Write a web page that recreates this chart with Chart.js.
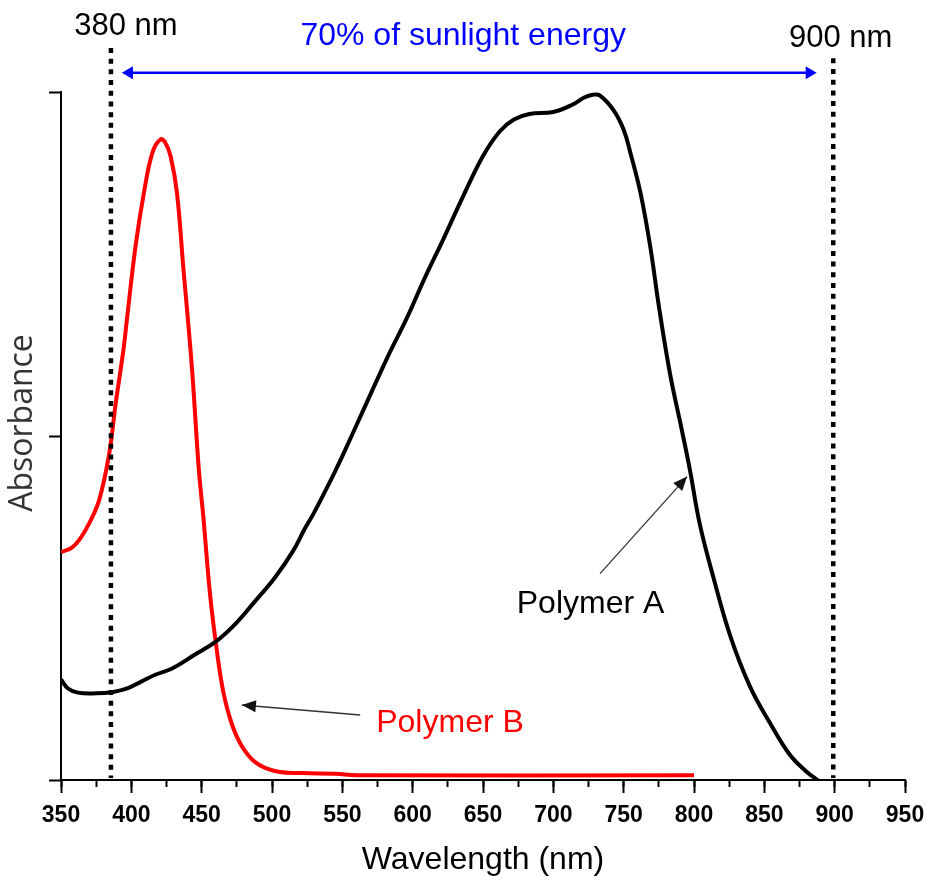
<!DOCTYPE html>
<html><head><meta charset="utf-8">
<script src="https://cdn.jsdelivr.net/npm/chart.js@4.4.0/dist/chart.umd.min.js"></script>
<style>html,body{margin:0;padding:0;background:#fff}#wrap{width:927px;height:880px;position:relative}</style>
</head><body><div id="wrap"><canvas id="c" width="927" height="880"></canvas></div>
<script>
// ---- data (wavelength in nm, absorbance normalised to axis 0..1) ----
const polymerA_nm  = [350,355,362,375,387,397,407,417,429,445,460,474,488,502,515,523,530,544,551,565,582,596,608,622,636,650,662,672,683,700,714,722,728,733,743,750,755,762,769,775,783,791,797,804,814,826,840,854,868,880,888];
const polymerA_abs = [0.146,0.133,0.127,0.126,0.128,0.133,0.143,0.153,0.162,0.182,0.201,0.227,0.260,0.294,0.333,0.364,0.389,0.445,0.475,0.538,0.614,0.672,0.727,0.787,0.849,0.907,0.943,0.960,0.968,0.971,0.982,0.992,0.996,0.995,0.973,0.945,0.910,0.853,0.774,0.689,0.590,0.512,0.452,0.373,0.293,0.208,0.135,0.083,0.037,0.012,0.000];
const polymerB_nm  = [350,358,364,370,377,384,389,394.5,397,403,409,415,420.6,424,428,432.4,437,443,448,451.3,456,461,465.5,471.5,478.6,488,502,521,545,560,800];
const polymerB_abs = [0.331,0.338,0.352,0.373,0.406,0.471,0.549,0.627,0.672,0.776,0.854,0.912,0.931,0.927,0.906,0.854,0.744,0.601,0.451,0.380,0.269,0.185,0.127,0.081,0.049,0.026,0.013,0.010,0.009,0.007,0.007];
const xTickStep = 50;
const xMinorStep = 25;
const xRange = [350, 950];
const yRange = [0, 1];
const markerWavelengths = [385.5, 899];
const markerTops = [1.064, 1.049];
const markerLabels = ['380 nm', '900 nm'];

// ---- annotation layout (data units) ----
const markerLabelPos = [{nm: 396.1, v: 1.083}, {nm: 904.3, v: 1.066}];
const sunArrow = {from: 393.3, to: 887.2, v: 1.028, text: '70% of sunlight energy', textNm: 635.9, textV: 1.068};
const labelA = {text: 'Polymer A', nm: 674, v: 0.243, arrowFrom: [733.2, 0.300], arrowTo: [795.1, 0.441]};
const labelB = {text: 'Polymer B', nm: 574.1, v: 0.070, arrowFrom: [562.7, 0.0945], arrowTo: [478.6, 0.109]};

const toPoints = (xs, ys) => xs.map((v, i) => ({x: v, y: ys[i]}));

function arrowHead(ctx, x1, y1, x2, y2, len, half) {
  const a = Math.atan2(y2 - y1, x2 - x1);
  ctx.beginPath();
  ctx.moveTo(x2, y2);
  ctx.lineTo(x2 - len * Math.cos(a) + half * Math.sin(a), y2 - len * Math.sin(a) - half * Math.cos(a));
  ctx.lineTo(x2 - len * Math.cos(a) - half * Math.sin(a), y2 - len * Math.sin(a) + half * Math.cos(a));
  ctx.closePath();
  ctx.fill();
}

const annotPlugin = {
  id: 'annot',
  afterDatasetsDraw(chart) {
    const {ctx} = chart;
    const xs = chart.scales.x, ys = chart.scales.y;
    const X = v => xs.getPixelForValue(v), Y = v => ys.getPixelForValue(v);
    ctx.save();
    // dotted marker lines
    ctx.strokeStyle = '#000';
    ctx.lineWidth = 4.5;
    ctx.setLineDash([5, 5.7]);
    markerWavelengths.forEach((m, i) => {
      ctx.beginPath();
      ctx.moveTo(X(m), Y(markerTops[i]));
      ctx.lineTo(X(m), Y(0) - 2);
      ctx.stroke();
    });
    ctx.setLineDash([]);
    // marker labels
    ctx.fillStyle = '#000';
    ctx.font = '31px "Liberation Sans", Arial, sans-serif';
    ctx.textAlign = 'center';
    ctx.textBaseline = 'alphabetic';
    markerLabels.forEach((t, i) => ctx.fillText(t, X(markerLabelPos[i].nm), Y(markerLabelPos[i].v)));
    // sunlight double arrow
    ctx.strokeStyle = '#0000ff';
    ctx.fillStyle = '#0000ff';
    ctx.lineWidth = 2.5;
    const ax1 = X(sunArrow.from), ax2 = X(sunArrow.to), ay = Y(sunArrow.v);
    ctx.beginPath(); ctx.moveTo(ax1 + 8, ay); ctx.lineTo(ax2 - 8, ay); ctx.stroke();
    arrowHead(ctx, ax2 - 20, ay, ax2, ay, 11, 6.5);
    arrowHead(ctx, ax1 + 20, ay, ax1, ay, 11, 6.5);
    ctx.font = '32px "Liberation Sans", Arial, sans-serif';
    ctx.fillText(sunArrow.text, X(sunArrow.textNm), Y(sunArrow.textV));
    // polymer labels and pointer arrows
    [[labelA, '#000'], [labelB, '#ff0000']].forEach(([L, col]) => {
      const x1 = X(L.arrowFrom[0]), y1 = Y(L.arrowFrom[1]), x2 = X(L.arrowTo[0]), y2 = Y(L.arrowTo[1]);
      ctx.strokeStyle = '#333';
      ctx.fillStyle = '#111';
      ctx.lineWidth = 1.3;
      ctx.beginPath(); ctx.moveTo(x1, y1); ctx.lineTo(x2, y2); ctx.stroke();
      arrowHead(ctx, x1, y1, x2, y2, 14, 6);
      ctx.fillStyle = col;
      ctx.font = '32px "Liberation Sans", Arial, sans-serif';
      ctx.textAlign = 'left';
      ctx.fillText(L.text, X(L.nm), Y(L.v));
    });
    // y axis title
    ctx.save();
    ctx.translate(23, (Y(yRange[0]) + Y(yRange[1])) / 2 - 13);
    ctx.rotate(-Math.PI / 2);
    ctx.fillStyle = '#333';
    ctx.font = '32px "Open Sans", sans-serif';
    ctx.textAlign = 'center';
    ctx.textBaseline = 'middle';
    ctx.fillText('Absorbance', 0, 0);
    ctx.restore();
    ctx.restore();
  }
};

new Chart(document.getElementById('c'), {
  type: 'line',
  data: {
    datasets: [
      {label: 'Polymer A', data: toPoints(polymerA_nm, polymerA_abs), borderColor: '#000', borderWidth: 4,
       pointRadius: 0, tension: 0.4, xAxisID: 'x', yAxisID: 'y'},
      {label: 'Polymer B', data: toPoints(polymerB_nm, polymerB_abs), borderColor: '#ff0000', borderWidth: 4,
       pointRadius: 0, tension: 0.4, xAxisID: 'x', yAxisID: 'y'}
    ]
  },
  options: {
    responsive: false,
    animation: false,
    devicePixelRatio: 1,
    layout: {padding: {top: 92, right: 22, bottom: 0, left: 0}},
    plugins: {legend: {display: false}, tooltip: {enabled: false}},
    scales: {
      x: {
        type: 'linear', position: 'bottom', weight: 1,
        min: xRange[0], max: xRange[1],
        ticks: {stepSize: xTickStep, color: '#000', padding: 9, maxRotation: 0,
                font: {family: '"Liberation Sans", Arial, sans-serif', size: 23, weight: 'bold'}},
        grid: {drawOnChartArea: false, drawTicks: true, tickLength: 13, tickWidth: 2, tickColor: '#000'},
        border: {display: true, color: '#000', width: 2},
        title: {display: true, text: 'Wavelength (nm)', color: '#000', padding: {top: 0, bottom: 1},
                font: {family: '"Liberation Sans", Arial, sans-serif', size: 32}},
        afterFit: s => { s.height = 100; s.paddingLeft = 0; s.paddingRight = 0; }
      },
      xMinor: {
        type: 'linear', position: 'bottom', weight: 0,
        min: xRange[0], max: xRange[1],
        ticks: {stepSize: xMinorStep, display: false},
        grid: {drawOnChartArea: false, drawTicks: true, tickLength: 7, tickWidth: 2, tickColor: '#000'},
        border: {display: false},
        afterFit: s => { s.height = 0; s.paddingLeft = 0; s.paddingRight = 0; }
      },
      y: {
        type: 'linear', position: 'left',
        min: yRange[0], max: yRange[1],
        ticks: {stepSize: 0.5, display: false},
        grid: {drawOnChartArea: false, drawTicks: true, tickLength: 12, tickWidth: 2, tickColor: '#000'},
        border: {display: true, color: '#000', width: 2},
        afterFit: s => { s.width = 61; s.paddingTop = 0; s.paddingBottom = 0; }
      }
    }
  },
  plugins: [annotPlugin]
});
</script>
</body></html>
